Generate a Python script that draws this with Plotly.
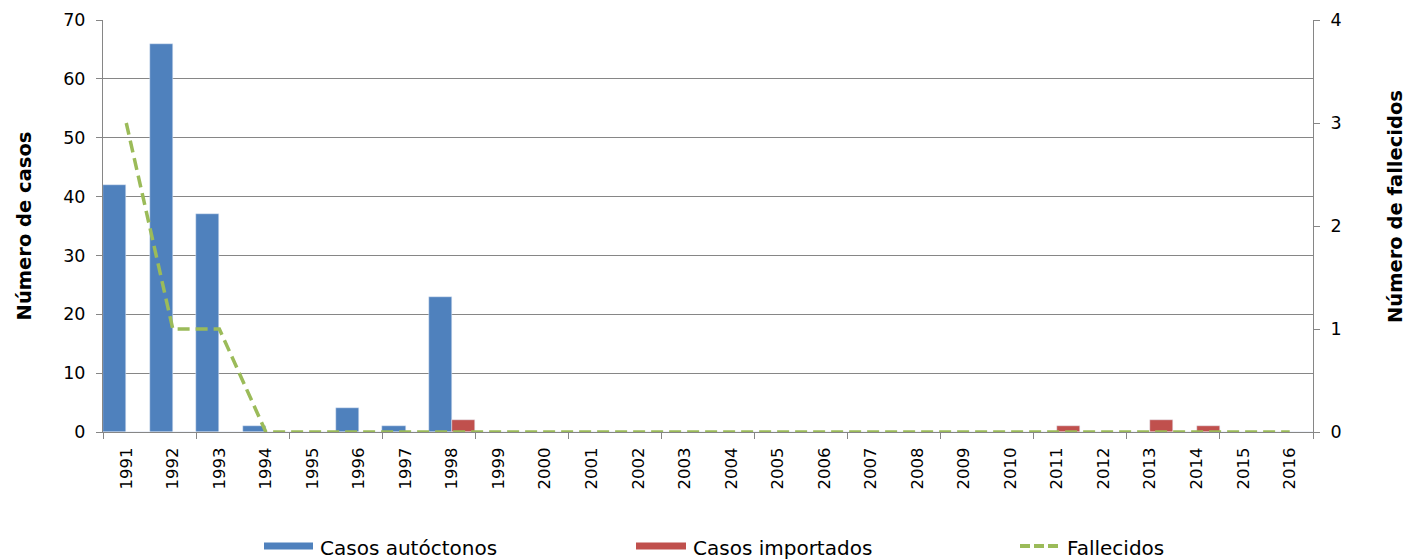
import plotly.graph_objects as go

years = [str(y) for y in range(1991, 2017)]
autoctonos = [42, 66, 37, 1, 0, 4, 1, 23, 0, 0, 0, 0, 0, 0, 0, 0, 0, 0, 0, 0, 0, 0, 0, 0, 0, 0]
importados = [0, 0, 0, 0, 0, 0, 0, 2, 0, 0, 0, 0, 0, 0, 0, 0, 0, 0, 0, 0, 1, 0, 2, 1, 0, 0]
fallecidos = [3, 1, 1, 0, 0, 0, 0, 0, 0, 0, 0, 0, 0, 0, 0, 0, 0, 0, 0, 0, 0, 0, 0, 0, 0, 0]

BLUE, RED, GREEN = "#4F81BD", "#C0504D", "#9BBB59"
AXIS_GREY = "#868686"
FONT = "DejaVu Sans, Verdana, sans-serif"

# the page puts the figure 8px in from the top-left (default body margin),
# so every pixel position below is taken from the reference minus 8
OFF = 8
W, H = 1415 - OFF, 559 - OFF
L, R, T, B = 103 - OFF, 1313 - OFF, 20 - OFF, 432 - OFF


def px_x(p):
    return (p - OFF - L) / (R - L)


def px_y(p):
    return (B - (p - OFF)) / (B - T)


x_pos = list(range(len(years)))

fig = go.Figure()
fig.add_trace(go.Bar(x=x_pos, y=autoctonos, name="Casos autóctonos", marker_color=BLUE))
fig.add_trace(go.Bar(x=x_pos, y=importados, name="Casos importados", marker_color=RED))
fig.add_trace(
    go.Scatter(
        x=x_pos, y=fallecidos, name="Fallecidos", mode="lines", yaxis="y2",
        line=dict(color=GREEN, width=3.5, dash="12px,6px"),
    )
)

# legend drawn by hand so the keys look like the original (wide swatches)
shapes = [
    dict(type="rect", xref="paper", yref="paper", x0=px_x(264), x1=px_x(313),
         y0=px_y(549.5), y1=px_y(542.5), fillcolor=BLUE, line=dict(width=0)),
    dict(type="rect", xref="paper", yref="paper", x0=px_x(636), x1=px_x(686),
         y0=px_y(549.5), y1=px_y(542.5), fillcolor=RED, line=dict(width=0)),
    dict(type="line", xref="paper", yref="paper", x0=px_x(1020), x1=px_x(1058),
         y0=px_y(546), y1=px_y(546), line=dict(color=GREEN, width=4, dash="10px,4px")),
]
annotations = [
    dict(text=name, xref="paper", yref="paper", x=px_x(xp), y=px_y(548), xanchor="left",
         yanchor="middle", showarrow=False, font=dict(family=FONT, size=20, color="black"))
    for name, xp in [("Casos autóctonos", 318), ("Casos importados", 691), ("Fallecidos", 1065)]
]
# right axis title sits a little above the middle of the plot in the original
annotations.append(
    dict(text="<b>Número de fallecidos</b>", xref="paper", yref="paper", x=px_x(1395),
         y=px_y(207), xanchor="center", yanchor="middle", textangle=-90, showarrow=False,
         font=dict(family=FONT, size=19.5, color="black"))
)

fig.update_layout(
    width=W,
    height=H,
    margin=dict(l=L, r=W - R, t=T, b=H - B),
    plot_bgcolor="white",
    paper_bgcolor="white",
    barmode="group",
    bargap=0,
    bargroupgap=0,
    showlegend=False,
    shapes=shapes,
    annotations=annotations,
    xaxis=dict(
        automargin=False,
        range=[-0.5, len(years) - 0.5],
        tickmode="array",
        tickvals=x_pos,
        ticktext=years,
        tickangle=-90,
        ticks="",
        ticklabelstandoff=8,
        showgrid=False,
        zeroline=False,
        showline=True,
        linecolor=AXIS_GREY,
        linewidth=1,
        tickfont=dict(family=FONT, size=16.5, color="black"),
        minor=dict(
            tickmode="array",
            tickvals=[i - 0.5 for i in range(0, len(years) + 1, 2)],
            ticks="outside",
            ticklen=6,
            tickcolor=AXIS_GREY,
            showgrid=False,
        ),
    ),
    yaxis=dict(
        automargin=False,
        range=[0, 70],
        dtick=10,
        showgrid=True,
        gridcolor=AXIS_GREY,
        gridwidth=1,
        zeroline=False,
        showline=True,
        linecolor=AXIS_GREY,
        ticks="outside",
        ticklen=6,
        tickcolor=AXIS_GREY,
        ticklabelstandoff=7,
        tickfont=dict(family=FONT, size=17.5, color="black"),
        title=dict(text="<b>Número de casos</b>", font=dict(family=FONT, size=19.5, color="black"), standoff=26),
    ),
    yaxis2=dict(
        automargin=False,
        range=[0, 4],
        dtick=1,
        overlaying="y",
        side="right",
        showgrid=False,
        zeroline=False,
        showline=True,
        linecolor=AXIS_GREY,
        ticks="outside",
        ticklen=6,
        tickcolor=AXIS_GREY,
        ticklabelstandoff=7,
        tickfont=dict(family=FONT, size=17.5, color="black"),
    ),
)

fig.write_html("out.html")
